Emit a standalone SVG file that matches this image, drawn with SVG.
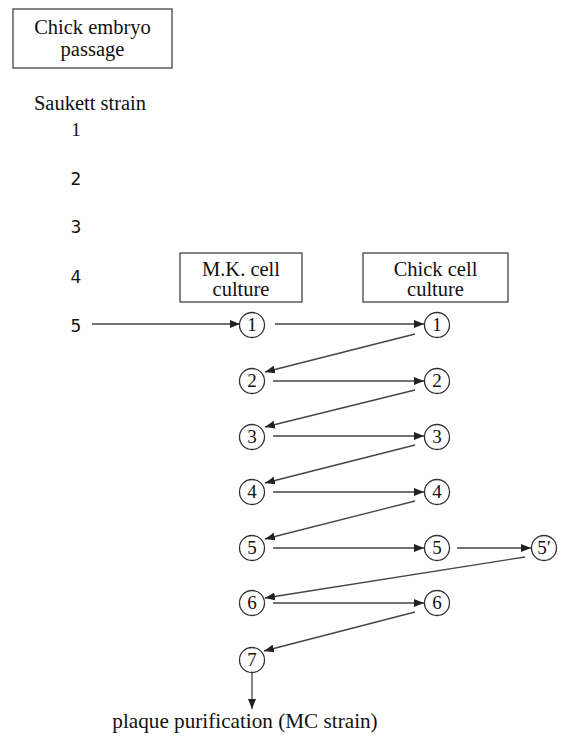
<svg xmlns="http://www.w3.org/2000/svg" width="565" height="736" viewBox="0 0 565 736">
<style>
.t{font-family:"Liberation Serif","Times New Roman",serif;font-size:20.5px;fill:#111;text-anchor:middle}
.s{font-family:"DejaVu Sans",sans-serif;font-size:17px;fill:#111;text-anchor:middle}
.n{font-family:"Liberation Serif","Times New Roman",serif;font-size:19px;fill:#111;text-anchor:middle}
.box{fill:#fff;stroke:#444;stroke-width:1.3}
.c{fill:#fff;stroke:#333;stroke-width:1.3}
.e{stroke:#444;stroke-width:1.3;fill:none;marker-end:url(#ah)}
</style>
<defs>
<marker id="ah" viewBox="0 0 10 8" refX="10" refY="4" markerWidth="10" markerHeight="8" markerUnits="userSpaceOnUse" orient="auto">
<path d="M0,0 L10,4 L0,8 z" fill="#222"/>
</marker>
</defs>
<rect width="565" height="736" fill="#fff"/>
<g id="chick-embryo">
<rect class="box" x="13" y="9" width="159" height="59"/>
<text class="t" x="92.5" y="34">Chick embryo</text>
<text class="t" x="92.5" y="56">passage</text>
</g>
<g id="saukett">
<text class="t" x="90" y="110">Saukett strain</text>
<text class="n" x="76" y="136">1</text>
<text class="s" x="76" y="185">2</text>
<text class="s" x="76" y="233">3</text>
<text class="s" x="76" y="283">4</text>
<text class="s" x="76" y="332">5</text>
</g>
<g id="mk-box">
<rect class="box" x="180" y="253" width="122" height="49"/>
<text class="t" x="241" y="276">M.K. cell</text>
<text class="t" x="241" y="296">culture</text>
</g>
<g id="chick-box">
<rect class="box" x="363" y="253" width="145" height="49"/>
<text class="t" x="435.5" y="276">Chick cell</text>
<text class="t" x="435.5" y="296">culture</text>
</g>
<g id="connectors">
<line class="e" x1="92" y1="324" x2="240" y2="324"/>
<line class="e" x1="275" y1="324" x2="424" y2="324"/>
<line class="e" x1="415" y1="334" x2="265" y2="372"/>
<line class="e" x1="273" y1="381" x2="424" y2="381"/>
<line class="e" x1="415" y1="390" x2="265" y2="427"/>
<line class="e" x1="273" y1="436" x2="424" y2="436"/>
<line class="e" x1="415" y1="445" x2="265" y2="483"/>
<line class="e" x1="273" y1="492" x2="424" y2="492"/>
<line class="e" x1="415" y1="501" x2="265" y2="539"/>
<line class="e" x1="273" y1="548" x2="424" y2="548"/>
<line class="e" x1="457" y1="548" x2="531" y2="548"/>
<line class="e" x1="525" y1="557" x2="265" y2="598"/>
<line class="e" x1="273" y1="603" x2="424" y2="603"/>
<line class="e" x1="415" y1="612" x2="264" y2="651"/>
<line class="e" x1="252" y1="672" x2="252" y2="709"/>
</g>
<g id="mk1"><circle class="c" cx="252" cy="325" r="12.5"/><text class="n" x="252" y="331">1</text></g>
<g id="ch1"><circle class="c" cx="437" cy="325" r="12.5"/><text class="n" x="437" y="331">1</text></g>
<g id="mk2"><circle class="c" cx="252" cy="381" r="12.5"/><text class="n" x="252" y="387">2</text></g>
<g id="ch2"><circle class="c" cx="437" cy="381" r="12.5"/><text class="n" x="437" y="387">2</text></g>
<g id="mk3"><circle class="c" cx="252" cy="437" r="12.5"/><text class="n" x="252" y="443">3</text></g>
<g id="ch3"><circle class="c" cx="437" cy="437" r="12.5"/><text class="n" x="437" y="443">3</text></g>
<g id="mk4"><circle class="c" cx="252" cy="492" r="12.5"/><text class="n" x="252" y="498">4</text></g>
<g id="ch4"><circle class="c" cx="437" cy="492" r="12.5"/><text class="n" x="437" y="498">4</text></g>
<g id="mk5"><circle class="c" cx="252" cy="548" r="12.5"/><text class="n" x="252" y="554">5</text></g>
<g id="ch5"><circle class="c" cx="437" cy="548" r="12.5"/><text class="n" x="437" y="554">5</text></g>
<g id="ch5p"><circle class="c" cx="544" cy="548" r="12.5"/><text class="n" x="544" y="554">5′</text></g>
<g id="mk6"><circle class="c" cx="252" cy="603" r="12.5"/><text class="n" x="252" y="609">6</text></g>
<g id="ch6"><circle class="c" cx="437" cy="603" r="12.5"/><text class="n" x="437" y="609">6</text></g>
<g id="mk7"><circle class="c" cx="252" cy="660" r="12.5"/><text class="n" x="252" y="666">7</text></g>
<g id="plaque"><text class="t" x="245" y="728" style="font-size:21.2px">plaque purification (MC strain)</text></g>
</svg>
